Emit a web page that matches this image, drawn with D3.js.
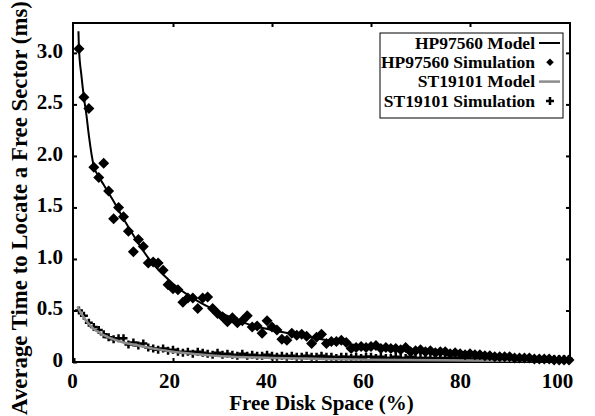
<!DOCTYPE html>
<html>
<head>
<meta charset="utf-8">
<script src="https://cdn.jsdelivr.net/npm/d3@7"></script>
<style>
  body { margin: 0; background: #fff; }
  text { font-family: "Liberation Serif", "Times New Roman", serif; font-weight: bold; }
</style>
</head>
<body>
<div id="chart"></div>
<script>
// data //
var xTicks = [0, 20, 40, 60, 80, 100];
var yTicks = [0, 0.5, 1.0, 1.5, 2.0, 2.5, 3.0];
var yTickLabels = ["0", "0.5", "1.0", "1.5", "2.0", "2.5", "3.0"];

var simX = d3.range(1, 101);

var hpSim = [3.04, 2.57, 2.46, 1.89, 1.79, 1.93, 1.66, 1.39, 1.50, 1.41,
  1.27, 1.07, 1.19, 1.12, 0.96, 0.97, 0.96, 0.89, 0.75, 0.71,
  0.70, 0.58, 0.62, 0.62, 0.52, 0.62, 0.63, 0.52, 0.47, 0.44,
  0.39, 0.43, 0.38, 0.40, 0.45, 0.34, 0.35, 0.28, 0.40, 0.34,
  0.31, 0.22, 0.21, 0.28, 0.26, 0.27, 0.25, 0.18, 0.24, 0.27,
  0.18, 0.20, 0.20, 0.21, 0.19, 0.13, 0.14, 0.15, 0.14, 0.15,
  0.16, 0.13, 0.14, 0.13, 0.13, 0.12, 0.14, 0.10, 0.11, 0.12,
  0.10, 0.11, 0.09, 0.10, 0.10, 0.08, 0.09, 0.08, 0.07, 0.08,
  0.07, 0.07, 0.06, 0.06, 0.05, 0.05, 0.05, 0.05, 0.04, 0.04,
  0.04, 0.04, 0.03, 0.03, 0.03, 0.03, 0.02, 0.02, 0.02, 0.02];

var stSim = [0.50, 0.45, 0.38, 0.34, 0.31, 0.27, 0.24, 0.22, 0.23, 0.23,
  0.17, 0.19, 0.16, 0.18, 0.14, 0.13, 0.12, 0.13, 0.11, 0.12,
  0.10, 0.09, 0.10, 0.08, 0.10, 0.09, 0.08, 0.07, 0.09, 0.07,
  0.08, 0.07, 0.06, 0.08, 0.06, 0.07, 0.06, 0.06, 0.07, 0.06,
  0.05, 0.06, 0.05, 0.06, 0.05, 0.05, 0.06, 0.05, 0.05, 0.06,
  0.05, 0.05, 0.04, 0.05, 0.05, 0.04, 0.05, 0.04, 0.05, 0.05,
  0.04, 0.05, 0.04, 0.04, 0.05, 0.04, 0.04, 0.05, 0.04, 0.04,
  0.04, 0.04, 0.03, 0.04, 0.04, 0.03, 0.04, 0.03, 0.04, 0.03,
  0.03, 0.03, 0.03, 0.03, 0.03, 0.03, 0.03, 0.03, 0.03, 0.03,
  0.03, 0.03, 0.03, 0.03, 0.03, 0.03, 0.03, 0.03, 0.03, 0.03];

var hpModelX = [0.9, 1, 1.5, 2, 2.5, 3, 4, 5, 6, 7, 8, 10, 12, 15, 20, 25, 30, 35, 40, 45, 50, 55, 60, 70, 80, 90, 100];
var hpModelY = [3.21, 3.05, 2.78, 2.57, 2.40, 2.20, 1.90, 1.80, 1.72, 1.64, 1.56, 1.39, 1.23, 1.01, 0.76, 0.59, 0.47, 0.37, 0.31, 0.265, 0.22, 0.18, 0.145, 0.10, 0.07, 0.045, 0.02];

var stModelX = [0.7, 1, 2, 3, 4, 5, 6, 8, 10, 13, 16, 20, 25, 30, 40, 50, 60, 80, 100];
var stModelY = [0.54, 0.51, 0.43, 0.37, 0.32, 0.29, 0.26, 0.22, 0.19, 0.16, 0.13, 0.10, 0.075, 0.055, 0.04, 0.03, 0.022, 0.015, 0.01];

var legendNames = ["HP97560 Model", "HP97560 Simulation", "ST19101 Model", "ST19101 Simulation"];

// layout //
var W = 595, H = 416;
var plotLeft = 73, plotRight = 570, plotTop = 23, plotBottom = 362;

var svg = d3.select("#chart").append("svg")
  .attr("width", W)
  .attr("height", H);

var xScale = d3.scaleLinear().domain([0, 100]).range([plotLeft + 1, plotRight - 1]);
var yScale = d3.scaleLinear().domain([0, 3.29]).range([plotBottom, plotTop]);

var diamond = function(r) { return "M0," + (-r) + "L" + r + ",0L0," + r + "L" + (-r) + ",0Z"; };
var plus = function(r) { return "M" + (-r) + ",0H" + r + "M0," + (-r) + "V" + r; };

// axes, ticks pointing in //
var axFont = "21px";

var xAxis = svg.append("g")
  .attr("transform", "translate(0," + plotBottom + ")")
  .call(d3.axisBottom(xScale).tickValues(xTicks).tickSizeInner(-4).tickSizeOuter(0).tickPadding(11));
xAxis.selectAll("text")
  .style("font-size", axFont)
  .attr("x", function(d) { return -2 - d * 0.1; });

svg.append("g")
  .attr("transform", "translate(0," + plotTop + ")")
  .call(d3.axisTop(xScale).tickValues(xTicks.slice(1, -1)).tickSizeInner(-4).tickSizeOuter(0).tickFormat(""));

var yAxis = svg.append("g")
  .attr("transform", "translate(" + plotLeft + ",0)")
  .call(d3.axisLeft(yScale).tickValues(yTicks).tickSizeInner(-4).tickSizeOuter(0).tickPadding(10)
    .tickFormat(function(d, i) { return yTickLabels[i]; }));
yAxis.selectAll("text")
  .style("font-size", axFont)
  .attr("dy", "0.2em");

svg.append("g")
  .attr("transform", "translate(" + plotRight + ",0)")
  .call(d3.axisRight(yScale).tickValues(yTicks.slice(1)).tickSizeInner(-4).tickSizeOuter(0).tickFormat(""));

svg.selectAll(".domain").remove();
svg.selectAll(".tick line").attr("stroke", "#000").attr("stroke-width", 2);

svg.append("rect")
  .attr("x", plotLeft)
  .attr("y", plotTop)
  .attr("width", plotRight - plotLeft)
  .attr("height", plotBottom - plotTop)
  .attr("fill", "none")
  .attr("stroke", "#000")
  .attr("stroke-width", 2);

// series //
var line = d3.line()
  .x(function(d) { return xScale(d[0]); })
  .y(function(d) { return yScale(d[1]); })
  .curve(d3.curveMonotoneX);

svg.append("g").selectAll("path")
  .data(simX.map(function(x, i) { return [x, stSim[i]]; }))
  .enter().append("path")
  .attr("d", plus(4))
  .attr("transform", function(d) { return "translate(" + xScale(d[0]) + "," + yScale(d[1]) + ")"; })
  .attr("stroke", "#000")
  .attr("stroke-width", 2.5)
  .attr("fill", "none");

svg.append("path")
  .datum(stModelX.map(function(x, i) { return [x, stModelY[i]]; }))
  .attr("d", line)
  .attr("fill", "none")
  .attr("stroke", "#8c8c8c")
  .attr("stroke-width", 2.5);

svg.append("g").selectAll("path")
  .data(simX.map(function(x, i) { return [x, hpSim[i]]; }))
  .enter().append("path")
  .attr("d", diamond(5.5))
  .attr("transform", function(d) { return "translate(" + xScale(d[0]) + "," + yScale(d[1]) + ")"; })
  .attr("fill", "#000");

svg.append("path")
  .datum(hpModelX.map(function(x, i) { return [x, hpModelY[i]]; }))
  .attr("d", line)
  .attr("fill", "none")
  .attr("stroke", "#000")
  .attr("stroke-width", 2);

// axis titles //
svg.append("text")
  .attr("x", (plotLeft + plotRight) / 2)
  .attr("y", 410)
  .attr("text-anchor", "middle")
  .style("font-size", axFont)
  .text("Free Disk Space (%)");

svg.append("text")
  .attr("transform", "translate(27," + 208 + ") rotate(-90)")
  .attr("text-anchor", "middle")
  .style("font-size", "22.8px")
  .text("Average Time to Locate a Free Sector (ms)");

// legend //
var legend = svg.append("g");
legend.append("rect")
  .attr("x", 380)
  .attr("y", 33)
  .attr("width", 183)
  .attr("height", 85)
  .attr("fill", "#fff")
  .attr("stroke", "#000")
  .attr("stroke-width", 1);

var rowY = function(i) { return 43 + i * 19.3; };

legend.selectAll("text")
  .data(legendNames)
  .enter().append("text")
  .attr("x", 535)
  .attr("y", function(d, i) { return rowY(i); })
  .attr("dy", "0.33em")
  .attr("text-anchor", "end")
  .style("font-size", "17.5px")
  .text(function(d) { return d; });

legend.append("line")
  .attr("x1", 539).attr("x2", 560)
  .attr("y1", rowY(0)).attr("y2", rowY(0))
  .attr("stroke", "#000").attr("stroke-width", 2);
legend.append("path")
  .attr("d", diamond(3.8))
  .attr("transform", "translate(550," + rowY(1) + ")")
  .attr("fill", "#000");
legend.append("line")
  .attr("x1", 539).attr("x2", 560)
  .attr("y1", rowY(2)).attr("y2", rowY(2))
  .attr("stroke", "#8c8c8c").attr("stroke-width", 2.5);
legend.append("path")
  .attr("d", plus(4))
  .attr("transform", "translate(550," + rowY(3) + ")")
  .attr("stroke", "#000").attr("stroke-width", 2.5);
</script>
</body>
</html>
